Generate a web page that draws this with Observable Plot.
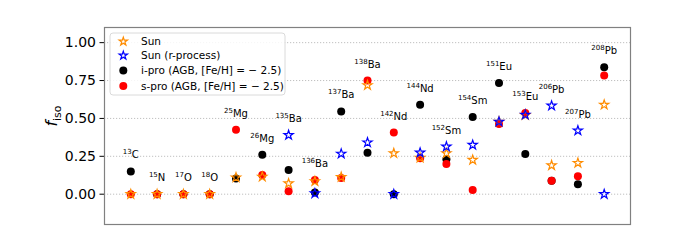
<!DOCTYPE html>
<html><head><meta charset="utf-8">
<script src="https://cdn.jsdelivr.net/npm/d3@7"></script>
<script src="https://cdn.jsdelivr.net/npm/@observablehq/plot@0.6"></script>
<style>
body{margin:0;background:#fff;}
#chart{width:700px;height:240px;}
</style></head><body><div id="chart"></div>
<script>
const isotopes = ["13C","15N","17O","18O","25Mg","26Mg","135Ba","136Ba","137Ba","138Ba","142Nd","144Nd","152Sm","154Sm","151Eu","153Eu","206Pb","207Pb","208Pb"];
const sun  = [0, 0, 0, 0, 0.11, 0.115, 0.071, 0.085, 0.113, 0.719, 0.27, 0.24, 0.27, 0.226, 0.478, 0.522, 0.19, 0.206, 0.59];
const sunR = [null, null, null, null, null, null, 0.39, 0.005, 0.267, 0.341, 0.0, 0.274, 0.314, 0.325, 0.478, 0.524, 0.584, 0.42, 0.0];
const ipro = [0.15, 0, 0, 0, 0.104, 0.261, 0.159, 0.011, 0.546, 0.274, 0, 0.59, 0.23, 0.509, 0.734, 0.265, 0.088, 0.066, 0.838];
const spro = [0, 0, 0, 0, 0.425, 0.126, 0.02, 0.093, 0.107, 0.75, 0.407, 0.237, 0.199, 0.027, 0.464, 0.535, 0.088, 0.119, 0.783];
const yTicks = [0, 0.25, 0.5, 0.75, 1.0];
const legendLabels = ["Sun", "Sun (r-process)", "i-pro (AGB, [Fe/H] = \u2212 2.5)", "s-pro (AGB, [Fe/H] = \u2212 2.5)"];
const legendColors = ["darkorange", "blue", "black", "red"];
const legendSymbols = ["star", "star", "circle", "circle"];

const idx = isotopes.map((_, i) => i);
const pts = vals => idx.filter(i => vals[i] != null).map(i => ({i, v: vals[i]}));
const labelOffset = 0.107;
const labels = idx.map(i => ({
  i, iso: isotopes[i],
  y: Math.max(...[sun[i], sunR[i], ipro[i], spro[i]].filter(v => v != null)) + labelOffset
}));

const plot = Plot.plot({
  width: 700, height: 240,
  marginLeft: 104, marginRight: 70, marginTop: 27, marginBottom: 16,
  style: {fontFamily: "DejaVu Sans", fontSize: "14px", background: "white", color: "black"},
  x: {domain: [-1, 19], axis: null},
  y: {domain: [-0.2, 1.1], ticks: yTicks, tickFormat: d3.format(".2f"), label: null, tickSize: 4.5, tickPadding: 4},
  marks: [
    Plot.ruleY(yTicks, {stroke: "#b0b0b0", strokeWidth: 0.8, strokeDasharray: "1.2,1.8"}),
    Plot.frame({stroke: "#808080", strokeWidth: 1.2}),
    Plot.dot(pts(ipro), {x: "i", y: "v", r: 4, fill: "black"}),
    Plot.dot(pts(spro), {x: "i", y: "v", r: 4, fill: "red"}),
    Plot.dot(pts(sun), {x: "i", y: "v", r: 2.9, symbol: "star", stroke: "darkorange", strokeWidth: 1.2, fill: "none"}),
    Plot.dot(pts(sunR), {x: "i", y: "v", r: 2.9, symbol: "star", stroke: "blue", strokeWidth: 1.2, fill: "none"}),
    Plot.text(labels, {x: "i", y: "y", text: "iso", fontSize: 10, fill: "black", className: "isolabel"})
  ]
});
document.getElementById("chart").appendChild(plot);

const svg = d3.select(plot);
// superscript mass numbers
svg.selectAll("g.isolabel text").each(function() {
  const t = d3.select(this);
  const s = t.text();
  const m = s.match(/^(\d+)(.*)$/);
  if (!m) return;
  t.text(null);
  t.append("tspan").attr("font-size", 7).attr("dy", -4).text(m[1]);
  t.append("tspan").attr("font-size", 10).attr("dy", 4).text(m[2]);
});

// y-axis label f_iso
const yl = svg.append("text")
  .attr("transform", "translate(57,116) rotate(-90)")
  .attr("text-anchor", "middle")
  .attr("font-family", "DejaVu Sans")
  .attr("fill", "black");
yl.append("tspan").attr("font-style", "italic").attr("font-size", 16).text("f");
yl.append("tspan").attr("font-size", 11).attr("dy", 4).text("iso");

// legend
const lg = svg.append("g").attr("font-family", "DejaVu Sans").attr("font-size", 10.5).attr("text-anchor", "start");
lg.append("rect").attr("x", 110).attr("y", 33).attr("width", 175).attr("height", 62)
  .attr("rx", 3).attr("fill", "white").attr("fill-opacity", 0.85).attr("stroke", "#d0d0d0").attr("stroke-width", 0.8);
const rowY = [41.5, 55.5, 70.5, 86];
legendLabels.forEach((lab, k) => {
  const y = rowY[k];
  if (legendSymbols[k] === "star") {
    lg.append("path").attr("d", d3.symbol(d3.symbolStar, Math.PI * 2.6 * 2.6)())
      .attr("transform", `translate(123.3,${y})`)
      .attr("fill", "none").attr("stroke", legendColors[k]).attr("stroke-width", 1.2);
  } else {
    lg.append("circle").attr("cx", 123.3).attr("cy", y).attr("r", 4).attr("fill", legendColors[k]);
  }
  lg.append("text").attr("x", 141).attr("y", y).attr("dy", "0.35em").attr("text-anchor", "start").attr("fill", "black").text(lab);
});
</script>
</body></html>
